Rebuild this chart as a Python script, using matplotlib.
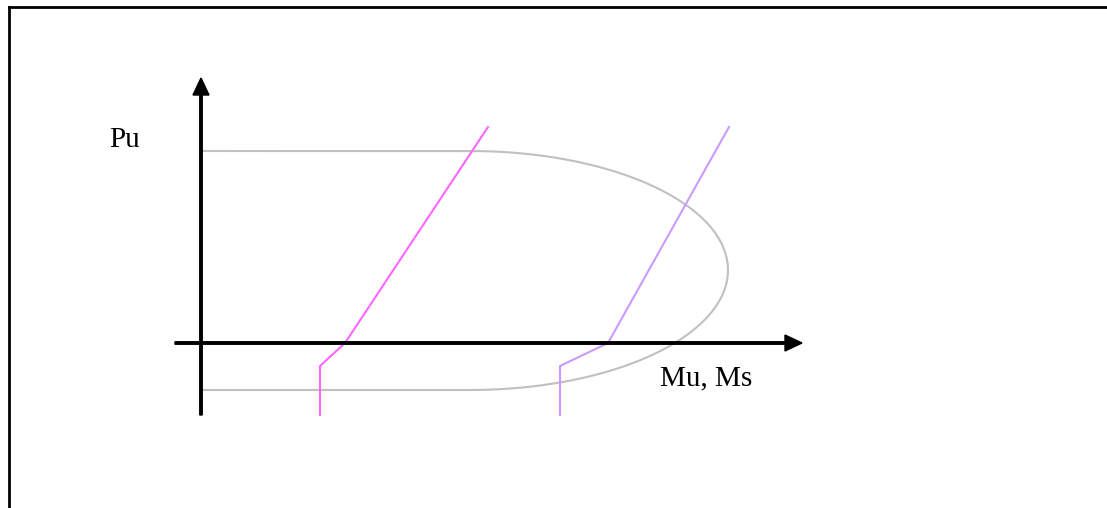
import numpy as np
import matplotlib.pyplot as plt

# interaction diagram (moment vs axial load), units are arbitrary
Pu_max = 192        # top flat cut-off
Pu_min = -47        # tension cut-off
P_bal = 73          # load at the nose of the curve
M_flat = 269        # moment where the flat parts end
M_max = 527         # moment at the nose

# load paths for the two columns
path1_M = [119, 119, 144, 287]
path1_P = [-72, -23, 0, 216]
path2_M = [359, 359, 407, 528]
path2_P = [-72, -23, 0, 216]

fig = plt.figure(figsize=(11.07, 5.08), dpi=100)
ax = fig.add_axes([0, 0, 1, 1])
ax.set_xlim(-201, 906)
ax.set_ylim(-165, 343)
ax.axis('off')

# outer frame (left and top edges)
fig.add_artist(plt.Line2D([0.0077, 0.0077], [0, 0.987], color='black', lw=2, transform=fig.transFigure))
fig.add_artist(plt.Line2D([0.0077, 1.0], [0.987, 0.987], color='black', lw=2, transform=fig.transFigure))

# interaction curve: flat top, elliptical nose, flat bottom
t_top = np.linspace(np.pi / 2, 0, 80)
t_bot = np.linspace(0, -np.pi / 2, 80)
a = M_max - M_flat
curve_M = np.concatenate([[0], M_flat + a * np.cos(t_top), M_flat + a * np.cos(t_bot), [0]])
curve_P = np.concatenate([[Pu_max], P_bal + (Pu_max - P_bal) * np.sin(t_top),
                          P_bal + (P_bal - Pu_min) * np.sin(t_bot), [Pu_min]])
ax.plot(curve_M, curve_P, color='#c0c0c0', lw=1.5, zorder=1)

ax.plot(path1_M, path1_P, color='#ff66ff', lw=1.5, zorder=2)
ax.plot(path2_M, path2_P, color='#cc99ff', lw=1.5, zorder=2)

# axes with arrow heads
ax.arrow(0, -72, 0, 337, width=2.5, head_width=16, head_length=17,
         length_includes_head=True, color='black', zorder=3)
ax.arrow(-26, 0, 627, 0, width=2.5, head_width=16, head_length=17,
         length_includes_head=True, color='black', zorder=3)

ax.text(-76, 203, 'Pu', fontsize=21, family='Liberation Serif', ha='center', va='center')
ax.text(505, -35, 'Mu, Ms', fontsize=21, family='Liberation Serif', ha='center', va='center')

fig.savefig('out.png', dpi=100)
